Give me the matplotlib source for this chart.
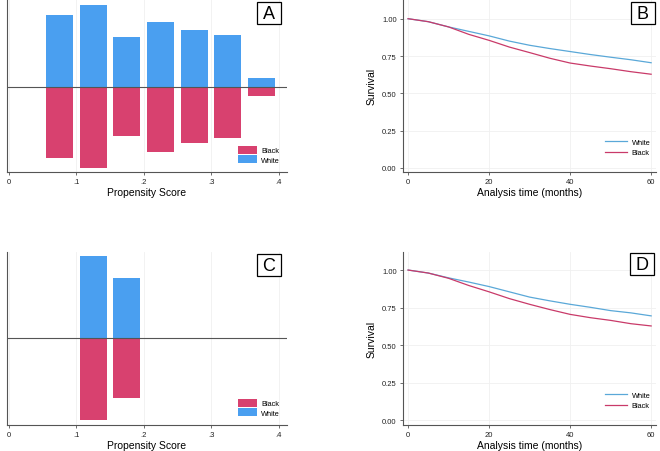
import numpy as np
import matplotlib
matplotlib.use('Agg')
import matplotlib.pyplot as plt
from matplotlib.patches import Rectangle

# propensity score histograms (share of each group per bin)
ps_bins = [0.075, 0.125, 0.175, 0.225, 0.275, 0.325, 0.375]
ps_white_a = [0.186, 0.213, 0.129, 0.168, 0.147, 0.135, 0.023]
ps_black_a = [0.185, 0.212, 0.128, 0.169, 0.147, 0.134, 0.023]
ps_bins_c = [0.125, 0.175]
ps_white_c = [0.213, 0.156]
ps_black_c = [0.212, 0.156]

# Kaplan-Meier survival
months = [0, 5, 10, 15, 20, 25, 30, 35, 40, 45, 50, 55, 60]
surv_white_b = [1.00, 0.98, 0.945, 0.915, 0.885, 0.85, 0.822, 0.80, 0.78, 0.76, 0.742, 0.725, 0.705]
surv_black_b = [1.00, 0.98, 0.945, 0.895, 0.855, 0.81, 0.773, 0.735, 0.703, 0.683, 0.665, 0.645, 0.628]
surv_white_d = [1.00, 0.98, 0.948, 0.92, 0.89, 0.855, 0.82, 0.795, 0.772, 0.752, 0.73, 0.715, 0.695]
surv_black_d = [1.00, 0.98, 0.945, 0.897, 0.855, 0.81, 0.772, 0.737, 0.705, 0.683, 0.665, 0.643, 0.628]

blue = '#4a9ff0'
pink = '#d8416f'
line_white = '#5aa8d8'
line_black = '#c93a69'
spine_col = '#555555'
grid_col = '#f0f0f0'

W, H = 660, 452
fig = plt.figure(figsize=(6.6, 4.52), dpi=100)
fig.patch.set_facecolor('white')


def px_axes(left, top, right, bottom):
    return fig.add_axes([left / W, 1 - bottom / H, (right - left) / W, (bottom - top) / H])


def style(ax):
    for s in ['top', 'right']:
        ax.spines[s].set_visible(False)
    for s in ['left', 'bottom']:
        ax.spines[s].set_color(spine_col)
        ax.spines[s].set_linewidth(0.8)
    ax.tick_params(colors=spine_col, labelcolor='#222222', labelsize=5.5, length=2.5, width=0.6, pad=2)
    ax.grid(True, color=grid_col, linewidth=0.6)
    ax.set_axisbelow(True)


def letter_box(label, left, top):
    fig.add_artist(Rectangle((left / W, 1 - (top + 22) / H), 24 / W, 22 / H,
                             transform=fig.transFigure, fc='white', ec='black', lw=0.9))
    fig.text((left + 12) / W, 1 - (top + 11.5) / H, label, fontsize=13,
             ha='center', va='center', family='Liberation Sans')


def mirror_hist(ax, bins, white, black, ylim):
    ax.bar(bins, white, width=0.04, color=blue, label='White', zorder=2)
    ax.bar(bins, [-v for v in black], width=0.04, color=pink, label='Black', zorder=2)
    ax.axhline(0, color='#555555', lw=0.8, zorder=3)
    ax.set_xlim(-0.0025, 0.4125)
    ax.set_ylim(*ylim)
    ax.set_xticks([0, 0.1, 0.2, 0.3, 0.4])
    ax.set_xticklabels(['0', '.1', '.2', '.3', '.4'])
    ax.set_yticks([])
    ax.grid(True, axis='x', color=grid_col, linewidth=0.6)
    ax.grid(False, axis='y')
    ax.set_xlabel('Propensity Score', fontsize=7.5, labelpad=1)
    h, l = ax.get_legend_handles_labels()
    ax.legend(h[::-1], l[::-1], loc='lower right', bbox_to_anchor=(0.985, 0.03), fontsize=5.3,
              frameon=False, handlelength=2.6, handleheight=1.3, labelspacing=0.15,
              handletextpad=0.6, borderaxespad=0)


def km_plot(ax, white, black, ylim):
    ax.plot(months, white, color=line_white, lw=0.9, label='White')
    ax.plot(months, black, color=line_black, lw=0.9, label='Black')
    ax.set_xlim(-1.25, 61.2)
    ax.set_ylim(*ylim)
    ax.set_xticks([0, 20, 40, 60])
    ax.set_yticks([0, 0.25, 0.5, 0.75, 1.0])
    ax.set_yticklabels(['0.00', '0.25', '0.50', '0.75', '1.00'])
    ax.set_xlabel('Analysis time (months)', fontsize=7.5, labelpad=1)
    ax.set_ylabel('Survival', fontsize=7.5, labelpad=4)
    ax.legend(loc='lower right', bbox_to_anchor=(0.99, 0.075), fontsize=5.3, frameon=False,
              handlelength=3.0, labelspacing=0.45, handletextpad=0.6, borderaxespad=0)


plt.rcParams['font.family'] = ['Liberation Sans', 'DejaVu Sans']

ax_a = px_axes(7, 0, 287, 173)
style(ax_a)
mirror_hist(ax_a, ps_bins, ps_white_a, ps_black_a, (-0.2223, 0.2285))

ax_c = px_axes(7, 253, 287, 426)
style(ax_c)
mirror_hist(ax_c, ps_bins_c, ps_white_c, ps_black_c, (-0.2252, 0.2241))

ax_b = px_axes(403, 0, 656, 173)
style(ax_b)
km_plot(ax_b, surv_white_b, surv_black_b, (-0.027, 1.132))

ax_d = px_axes(403, 253, 656, 426)
style(ax_d)
km_plot(ax_d, surv_white_d, surv_black_d, (-0.031, 1.12))

letter_box('A', 257, 3)
letter_box('B', 631, 3)
letter_box('C', 257, 255)
letter_box('D', 630, 254)

fig.savefig('out.png', dpi=100)
